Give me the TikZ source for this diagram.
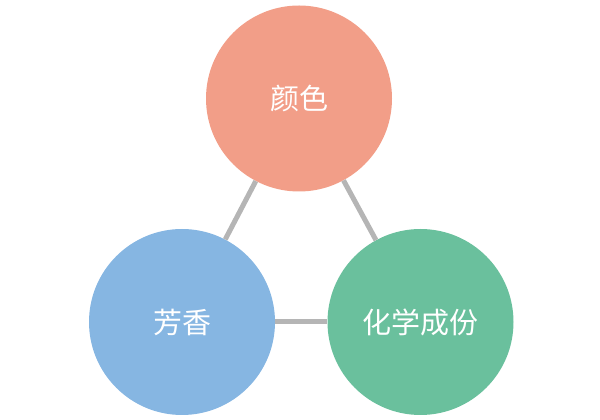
\documentclass[tikz,border=0pt]{standalone}
\usepackage{fontspec}
\newfontfamily\cjk{Noto Sans CJK SC}
\definecolor{cTop}{HTML}{F29E88}
\definecolor{cLeft}{HTML}{86B6E2}
\definecolor{cRight}{HTML}{6AC09D}
\definecolor{cLine}{HTML}{B5B5B5}
\tikzset{
  bubble/.style={circle, minimum size=186pt, inner sep=0pt, text=white, font=\cjk\fontsize{29}{32}\selectfont},
  link/.style={draw=cLine, line width=5pt}
}
\begin{document}
\begin{tikzpicture}[x=1pt,y=1pt]
\useasboundingbox (0,0) rectangle (600,420);
\node[bubble, fill=cTop] (top) at (299,321.5) {颜色};
\node[bubble, fill=cLeft] (left) at (182,98) {芳香};
\node[bubble, fill=cRight] (right) at (420.5,98) {化学成份};
\draw[link] (top) -- (left);
\draw[link] (top) -- (right);
\draw[link] (left) -- (right);
\end{tikzpicture}
\end{document}
